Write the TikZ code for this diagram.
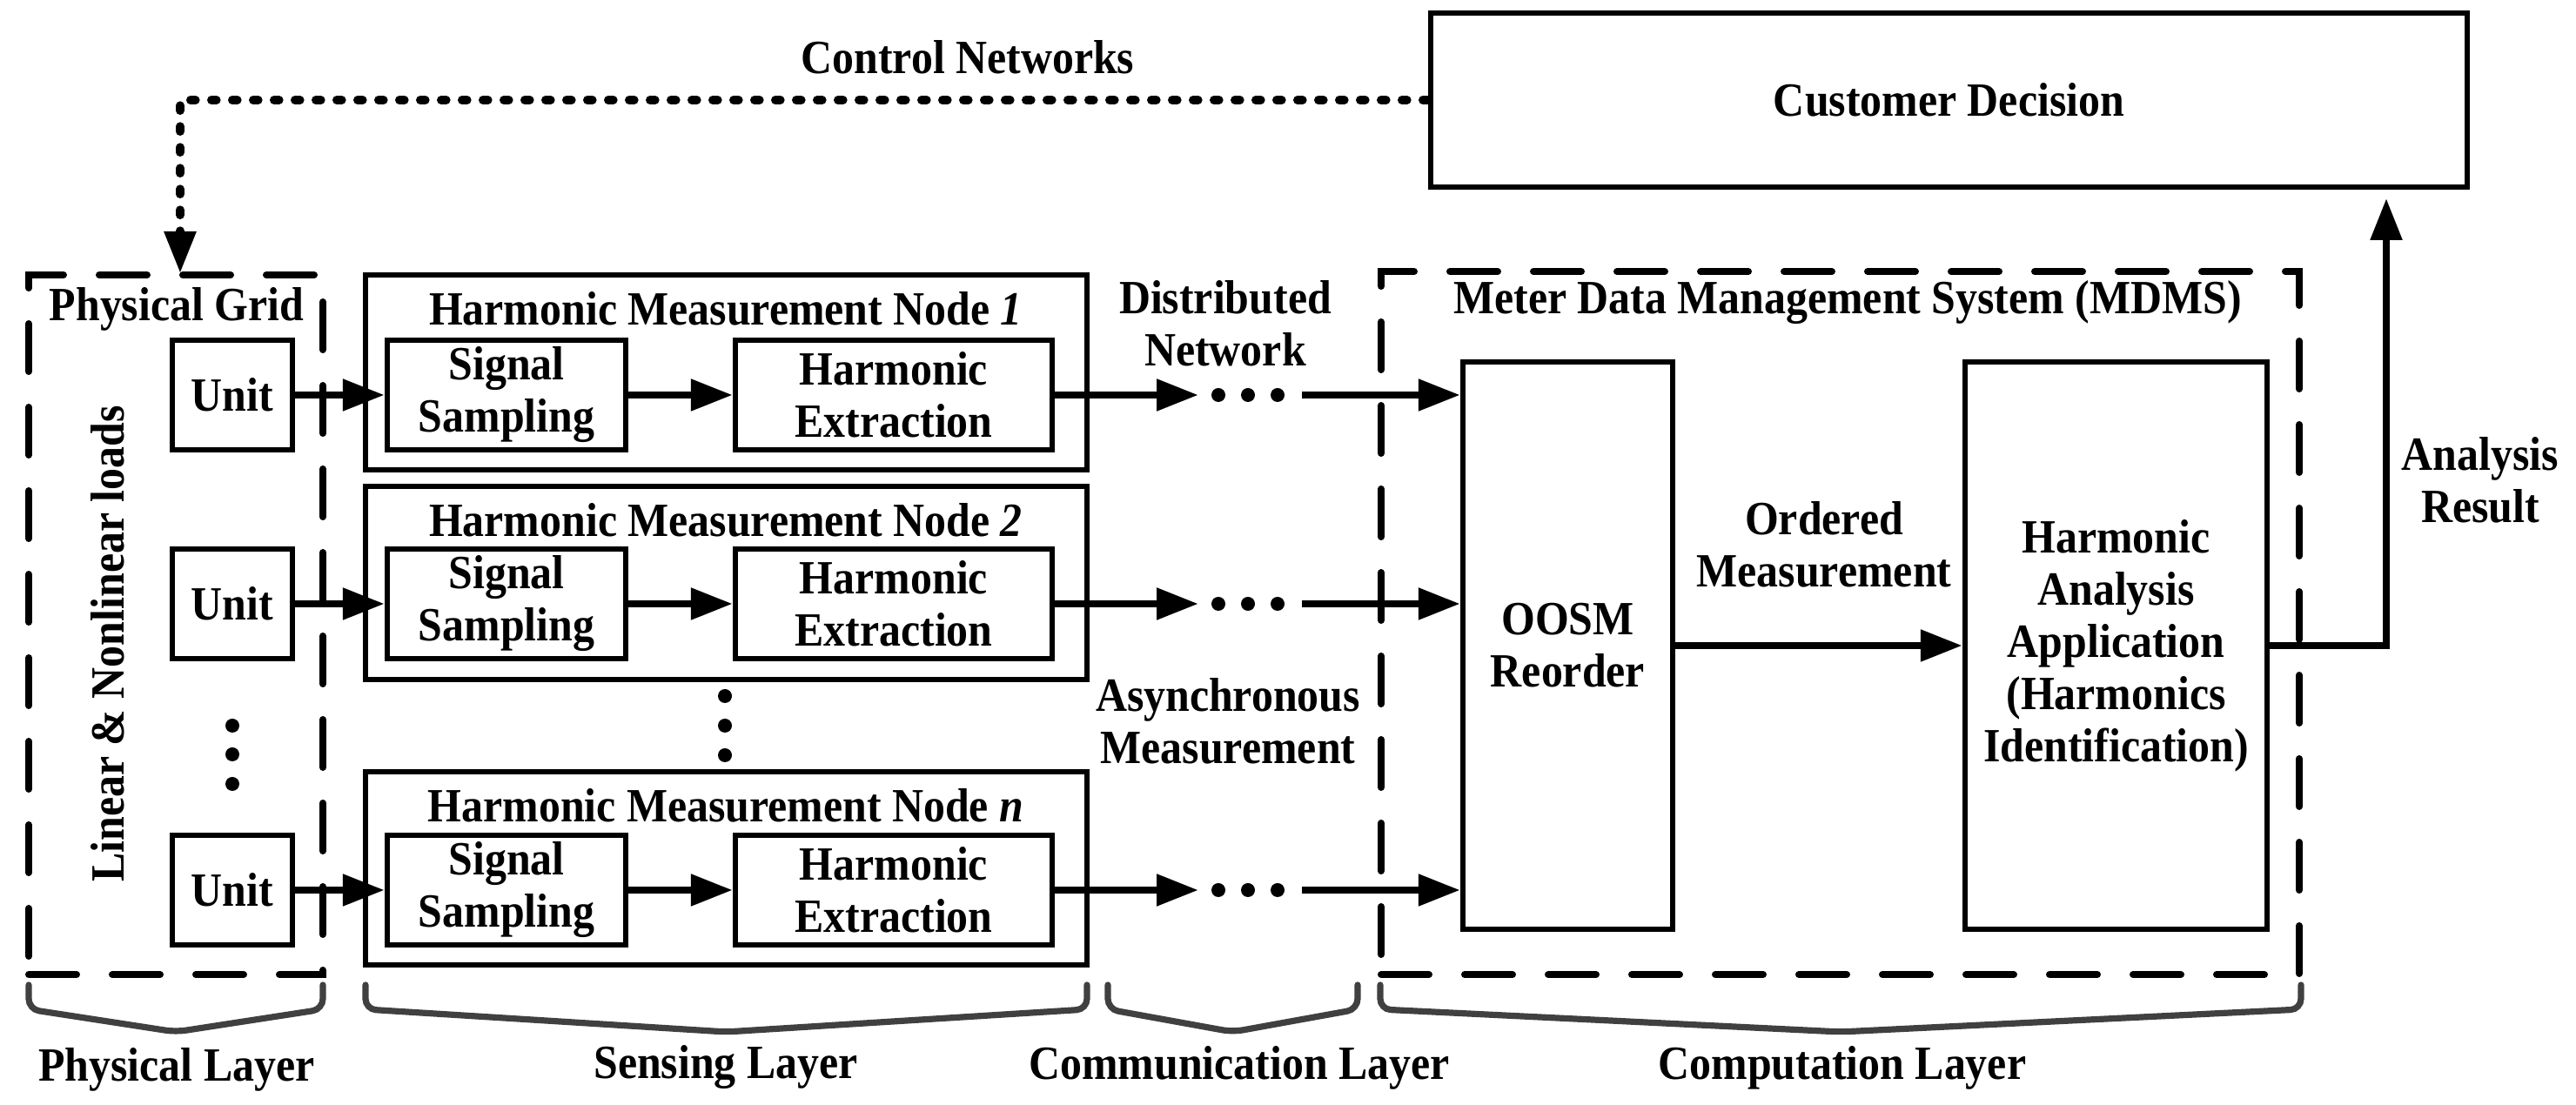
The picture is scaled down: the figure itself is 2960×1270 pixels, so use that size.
\documentclass[tikz,border=0pt]{standalone}
\usepackage{fontspec}
\setmainfont{Liberation Serif}[FakeStretch=0.91]
\usetikzlibrary{arrows.meta,calc}
\definecolor{bracegray}{HTML}{404040}
\begin{document}
\begin{tikzpicture}[x=0.25pt,y=-0.25pt,
  every node/.style={font=\fontsize{13.7}{15}\selectfont\bfseries, align=center, inner sep=0pt},
  sz/.style 2 args={minimum width=#1*0.25pt, minimum height=#2*0.25pt},
  box/.style={draw, line width=1.6pt, inner sep=0pt},
  dbox/.style={draw, line width=2pt, line cap=round, dash pattern=on 13.75pt off 10.25pt, inner sep=0pt},
  arr/.style={line width=2.1pt, -{Triangle[length=12pt,width=8.75pt]}},
  ctrl/.style={line width=2.4pt, line cap=round, dash pattern=on 1.5pt off 4.5pt},
  brace/.style={draw=bracegray, line width=1.8pt, line cap=round, rounded corners=3pt},
  dotc/.style={fill, circle, minimum size=4pt, inner sep=0pt}
]
\useasboundingbox (0,0) rectangle (2960,1270);

% top
\node[box, sz={1191}{200}] (cd) at (2239.5,115) {Customer Decision};
\node (cn) at (1112,66) {Control Networks};

% physical grid
\node[dbox, sz={338}{804}] (pg) at (202,718) {};
\node (pgl) at (203,355) {Physical Grid};
\node[rotate=90] (lnl) at (124,740) {Linear \& Nonlinear loads};
\node[box, sz={138}{126}] (u1) at (267,454) {Unit};
\node[box, sz={138}{126}] (u2) at (267,694) {Unit};
\node[box, sz={138}{126}] (un) at (267,1023) {Unit};
\node[dotc] (ud1) at (267,834) {};
\node[dotc] (ud2) at (267,867) {};
\node[dotc] (ud3) at (267,901) {};

% harmonic measurement nodes
\node[box, sz={829}{224}] (h1) at (834.5,428) {};
\node[box, sz={829}{222}] (h2) at (834.5,670) {};
\node[box, sz={829}{222}] (hn) at (834.5,998) {};
\node (h1l) at (834,355) {Harmonic Measurement Node \textit{1}};
\node (h2l) at (834,598) {Harmonic Measurement Node \textit{2}};
\node (hnl) at (834,926) {Harmonic Measurement Node \textit{n}};
\node[box, sz={274}{126}] (ss1) at (582,454) {Signal\\Sampling};
\node[box, sz={274}{126}] (ss2) at (582,694) {Signal\\Sampling};
\node[box, sz={274}{126}] (ssn) at (582,1023) {Signal\\Sampling};
\node[box, sz={364}{126}] (he1) at (1027,454) {Harmonic\\Extraction};
\node[box, sz={364}{126}] (he2) at (1027,694) {Harmonic\\Extraction};
\node[box, sz={364}{126}] (hen) at (1027,1023) {Harmonic\\Extraction};
\node[dotc] (hd1) at (833,800) {};
\node[dotc] (hd2) at (833,834) {};
\node[dotc] (hd3) at (833,868) {};

\draw[arr] (u1) -- (ss1);
\draw[arr] (u2) -- (ss2);
\draw[arr] (un) -- (ssn);
\draw[arr] (ss1) -- (he1);
\draw[arr] (ss2) -- (he2);
\draw[arr] (ssn) -- (hen);

% communication
\node (dn) at (1408,372) {Distributed\\Network};
\node (am) at (1411,829) {Asynchronous\\Measurement};
\foreach \r/\y in {1/454,2/694,n/1023}{
  \coordinate (t\r) at (1377,\y);
  \node[dotc] (da\r) at (1400,\y) {};
  \node[dotc] (db\r) at (1434,\y) {};
  \node[dotc] (dc\r) at (1468,\y) {};
  \coordinate (s\r) at (1496,\y);
}

% computation
\node[dbox, sz={1055}{808}] (mdms) at (2114.5,716) {};
\node (mdmsl) at (2123,348) {Meter Data Management System (MDMS)};
\node[box, sz={241}{652}] (oosm) at (1801.5,742) {OOSM\\Reorder};
\node[box, sz={347}{652}] (haa) at (2431.5,742) {Harmonic\\Analysis\\Application\\(Harmonics\\Identification)};
\node (om) at (2096,626) {Ordered\\Measurement};
\node (ar) at (2850,552) {Analysis\\Result};
\coordinate (art) at (2742,228);

\draw[arr] (he1) -- (t1);
\draw[arr] (he2) -- (t2);
\draw[arr] (hen) -- (tn);
\draw[arr] (s1) -- (oosm.west |- s1);
\draw[arr] (s2) -- (oosm.west |- s2);
\draw[arr] (sn) -- (oosm.west |- sn);
\draw[arr] (oosm) -- (haa);
\draw[arr] (haa.east) -| (art);

% control loop
\coordinate (cc) at (207,115);
\coordinate (ctop) at (207,314);
\draw[ctrl] (cd.west) -- (cc) -- ([yshift=11pt]ctop);
\draw[line width=2.25pt, -{Triangle[length=12pt,width=8.75pt]}] ([yshift=11pt]ctop) -- (ctop);

% braces
\coordinate (b1a) at (33,1132);  \coordinate (b1b) at (371,1132);
\coordinate (b2a) at (420,1132); \coordinate (b2b) at (1249,1132);
\coordinate (b3a) at (1273,1132); \coordinate (b3b) at (1560,1132);
\coordinate (b4a) at (1586,1132); \coordinate (b4b) at (2644,1132);
\foreach \a/\b in {b1a/b1b,b2a/b2b,b3a/b3b,b4a/b4b}{
  \draw[brace] (\a) -- ++(0,28) -- ($(\a)!0.5!(\b)+(0,54)$) -- ($(\b)+(0,28)$) -- (\b);
}
\node (pl) at (203,1229) {Physical Layer};
\node (sl) at (834,1227) {Sensing Layer};
\node (cl) at (1424,1227) {Communication Layer};
\node (col) at (2117,1227) {Computation Layer};
\end{tikzpicture}
\end{document}
